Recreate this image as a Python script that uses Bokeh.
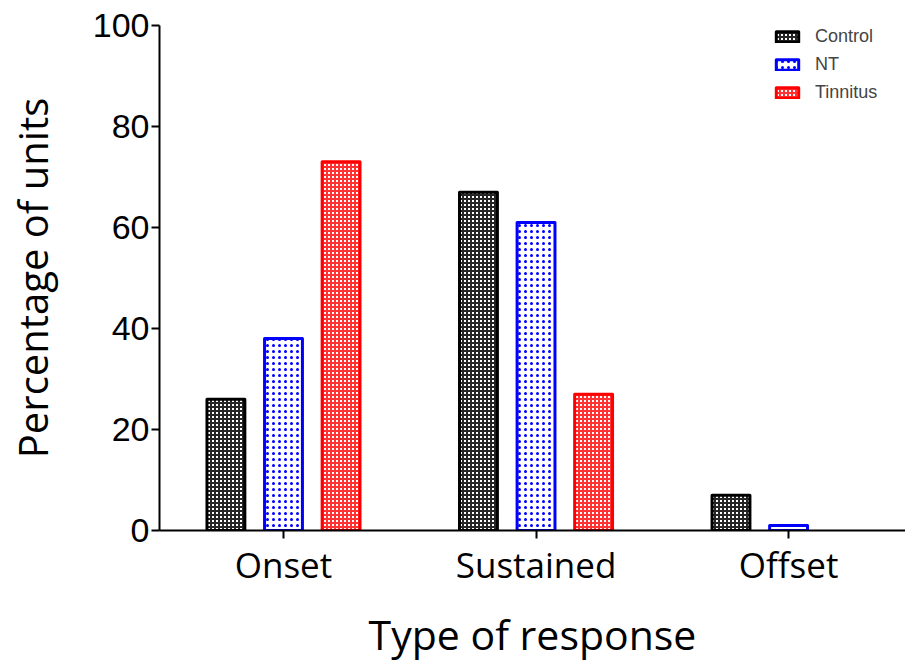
from bokeh.plotting import figure
from bokeh.models import (ColumnDataSource, Range1d, FixedTicker, Legend, LegendItem,
                          CDSView, BooleanFilter)
from bokeh.embed import file_html
from bokeh.resources import INLINE

categories = ["Onset", "Sustained", "Offset"]
control = [26, 67, 7]
nt = [38, 61, 1]
tinnitus = [73, 27, 0]
series_names = ["Control", "NT", "Tinnitus"]
y_ticks = [0, 20, 40, 60, 80, 100]

p = figure(width=905, height=666, output_backend="svg", toolbar_location=None,
           x_range=Range1d(-0.491, 2.463), y_range=Range1d(0, 100),
           min_border_left=159, min_border_right=0, min_border_top=25, min_border_bottom=136)
p.outline_line_color = None
p.grid.visible = False

xs = list(range(len(categories)))
offset = 0.228
width = 0.15

styles = [
    dict(line_color="black", fill_color="white", hatch_pattern="cross", hatch_color="black",
         hatch_scale=4, hatch_weight=2, hatch_alpha=0.85),
    dict(line_color="#0000ff", fill_color="white", hatch_pattern="dot", hatch_color="#0000ff",
         hatch_scale=6, hatch_weight=0.9),
    dict(line_color="#ff0000", fill_color="white", hatch_pattern="cross", hatch_color="#ff0000",
         hatch_scale=4, hatch_weight=2, hatch_alpha=0.8),
]
renderers = []
for i, (vals, st) in enumerate(zip([control, nt, tinnitus], styles)):
    src = ColumnDataSource(dict(x=[x + (i - 1) * offset for x in xs], top=vals))
    view = CDSView(filter=BooleanFilter([v > 0 for v in vals]))
    r = p.vbar(x="x", top="top", width=width, bottom=0, source=src, view=view,
               line_width=3, line_join="round", **st)
    renderers.append(r)

ax = p.xaxis[0]
ax.ticker = FixedTicker(ticks=xs)
ax.major_label_overrides = {i: c for i, c in enumerate(categories)}
ax.axis_label = "Type of response"
ax.axis_label_text_font = "Open Sans"
ax.axis_label_text_font_style = "normal"
ax.axis_label_text_font_size = "41px"
ax.axis_label_text_color = "black"
ax.axis_label_standoff = 15
ax.major_label_text_font = "Open Sans"
ax.major_label_text_font_size = "35px"
ax.major_label_text_color = "black"
ax.major_label_standoff = 2
ax.minor_tick_line_color = None
ax.major_tick_in = 0
ax.major_tick_out = 8
ax.axis_line_width = 2
ax.major_tick_line_width = 2

ay = p.yaxis[0]
ay.ticker = FixedTicker(ticks=y_ticks)
ay.axis_label = "Percentage of units"
ay.axis_label_text_font = "Open Sans"
ay.axis_label_text_font_style = "normal"
ay.axis_label_text_font_size = "40px"
ay.axis_label_text_color = "black"
ay.axis_label_standoff = 30
ay.major_label_text_font = "Liberation Sans"
ay.major_label_text_font_size = "34px"
ay.major_label_text_color = "black"
ay.major_label_standoff = 2
ay.minor_tick_line_color = None
ay.major_tick_in = 0
ay.major_tick_out = 8
ay.axis_line_width = 2
ay.major_tick_line_width = 2

legend = Legend(items=[LegendItem(label=n, renderers=[r]) for n, r in zip(series_names, renderers)],
                location=(614, 427), padding=0, margin=0, spacing=7,
                glyph_width=28, glyph_height=13, label_height=13, label_standoff=14,
                label_text_font="Liberation Sans", label_text_font_size="18px",
                border_line_color=None, background_fill_alpha=0)
p.add_layout(legend)

open("out.html", "w").write(file_html(p, INLINE))
